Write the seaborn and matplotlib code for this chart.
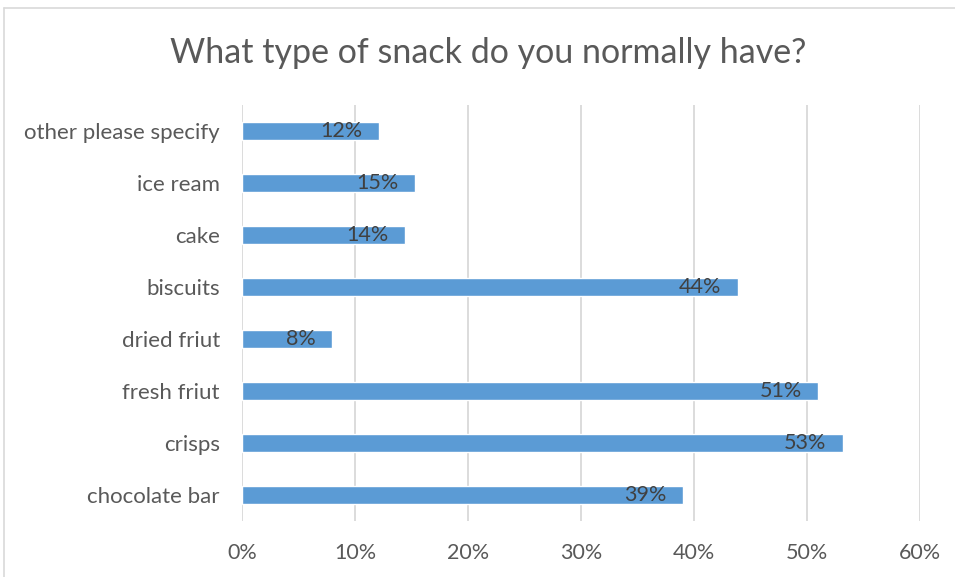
import matplotlib
matplotlib.use("Agg")
import matplotlib.pyplot as plt
import seaborn as sns
import pandas as pd
from matplotlib.ticker import FuncFormatter
from matplotlib.lines import Line2D

categories = ["other please specify", "ice ream", "cake", "biscuits",
              "dried friut", "fresh friut", "crisps", "chocolate bar"]
values = [12.1, 15.3, 14.4, 43.9, 8.0, 51.0, 53.2, 39.0]
xticks = [0, 10, 20, 30, 40, 50, 60]
title = "What type of snack do you normally have?"

sns.set_theme(style="white")
plt.rcParams["font.family"] = ["Lato", "DejaVu Sans"]

df = pd.DataFrame({"category": categories, "value": values})

fig = plt.figure(figsize=(9.55, 5.77), dpi=100)
ax = fig.add_axes([242 / 955, 56 / 577, 678 / 955, 416 / 577])

sns.barplot(data=df, x="value", y="category", order=categories, orient="h",
            color="#5B9BD5", saturation=1, width=0.35, ax=ax, zorder=3)

ax.set_xlim(0, 60)
ax.set_xticks(xticks)
ax.xaxis.set_major_formatter(FuncFormatter(lambda v, p: f"{int(v)}%"))
ax.grid(axis="x", color="#d9d9d9", linewidth=1.3, zorder=0)
ax.set_axisbelow(True)
for s in ax.spines.values():
    s.set_visible(False)
ax.tick_params(axis="both", length=0, labelcolor="#595959")
ax.tick_params(axis="x", pad=16, labelsize=15.5)
ax.tick_params(axis="y", pad=16, labelsize=16)
ax.set_xlabel("")
ax.set_ylabel("")

for i, v in enumerate(values):
    ax.annotate(f"{round(v)}%", xy=(v, i), xytext=(-12, 0), textcoords="offset points",
                ha="right", va="center", fontsize=15.5, color="#404040", zorder=4)

fig.text(488 / 955, 1 - 53 / 577, title, ha="center", va="center",
         fontsize=24.5, color="#595959")

# chart area border (top and left visible)
fig.add_artist(Line2D([4 / 955, 1], [1 - 8 / 577, 1 - 8 / 577], transform=fig.transFigure,
                      color="#d9d9d9", linewidth=1.2))
fig.add_artist(Line2D([4 / 955, 4 / 955], [0, 1 - 8 / 577], transform=fig.transFigure,
                      color="#d9d9d9", linewidth=1.2))

fig.savefig("out.png", dpi=100, facecolor="white")
